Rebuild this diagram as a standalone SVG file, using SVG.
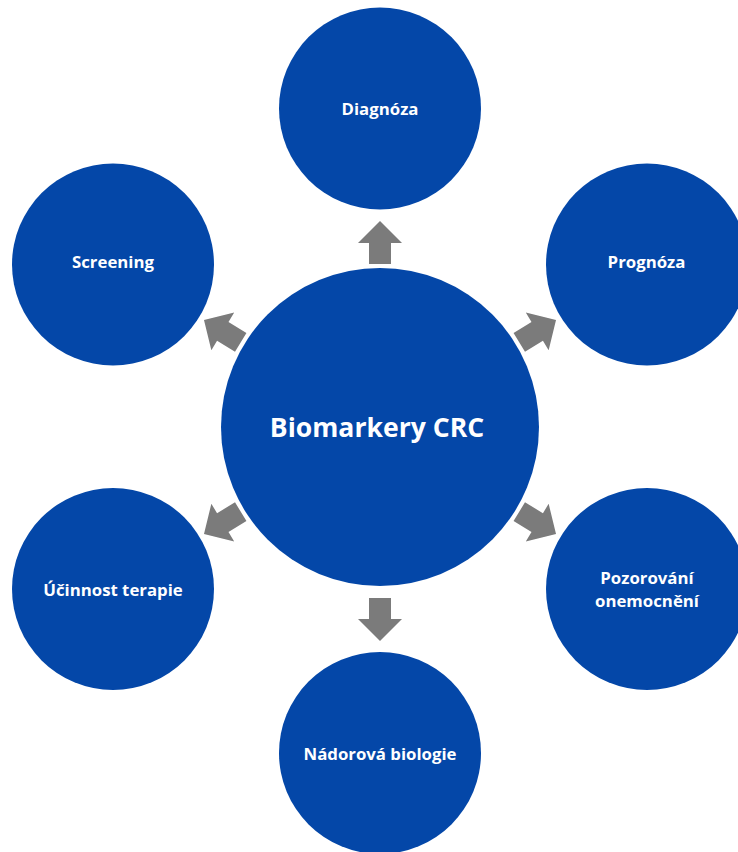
<svg xmlns="http://www.w3.org/2000/svg" width="738" height="852" viewBox="0 0 738 852">
  <style>
    .node { fill: #0447a8; }
    .lbl { fill: #ffffff; font-family: "Open Sans", "Liberation Sans", sans-serif; font-weight: bold; font-size: 16.8px; text-anchor: middle; }
    .big { font-size: 26.6px; }
    .arrow { fill: #7b7b7b; }
  </style>
  <defs>
    <path id="arr" d="M0,-11 H21 V-22 L43,0 L21,22 V11 H0 Z"/>
  </defs>
  <rect width="738" height="852" fill="#ffffff"/>
  <g id="connectors" class="arrow">
    <use href="#arr" transform="translate(380,427) rotate(-90) translate(163,0)"/>
    <use href="#arr" transform="translate(380,427) rotate(90) translate(171,0)"/>
    <use href="#arr" transform="translate(380,427) rotate(-148.7) translate(163,0)"/>
    <use href="#arr" transform="translate(380,427) rotate(-31.3) translate(163,0)"/>
    <use href="#arr" transform="translate(380,427) rotate(31.3) translate(163,0)"/>
    <use href="#arr" transform="translate(380,427) rotate(148.7) translate(163,0)"/>
  </g>
  <g id="center">
    <circle class="node" cx="380" cy="427" r="159"/>
    <text class="lbl big" x="377" y="437">Biomarkery CRC</text>
  </g>
  <g id="diagnoza">
    <circle class="node" cx="380" cy="108.5" r="101"/>
    <text class="lbl" x="380" y="115">Diagnóza</text>
  </g>
  <g id="screening">
    <circle class="node" cx="113" cy="264.5" r="101"/>
    <text class="lbl" x="113" y="268">Screening</text>
  </g>
  <g id="prognoza">
    <circle class="node" cx="647" cy="264.5" r="101"/>
    <text class="lbl" x="646.5" y="268">Prognóza</text>
  </g>
  <g id="ucinnost">
    <circle class="node" cx="113" cy="589" r="101"/>
    <text class="lbl" x="113" y="596">Účinnost terapie</text>
  </g>
  <g id="pozorovani">
    <circle class="node" cx="647" cy="589" r="101"/>
    <text class="lbl" x="647" y="584">Pozorování</text>
    <text class="lbl" x="647" y="607">onemocnění</text>
  </g>
  <g id="nadorova">
    <circle class="node" cx="380" cy="753" r="101"/>
    <text class="lbl" x="380" y="760">Nádorová biologie</text>
  </g>
</svg>
